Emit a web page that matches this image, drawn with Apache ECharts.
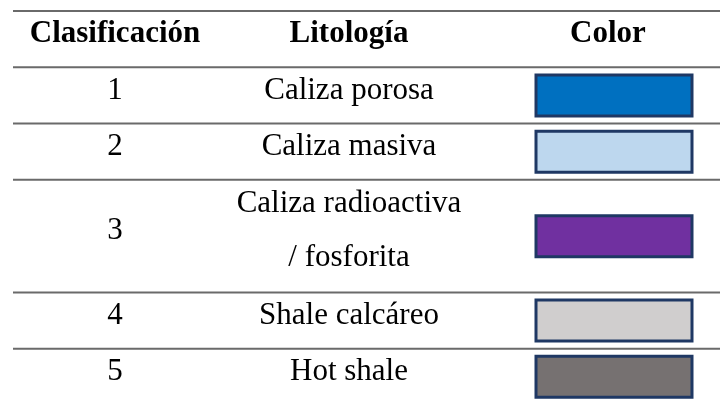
<!DOCTYPE html>
<html>
<head>
<meta charset="utf-8">
<script src="https://cdn.jsdelivr.net/npm/echarts@6/dist/echarts.min.js"></script>
<style>
  html, body { margin: 0; padding: 0; background: #ffffff; overflow: hidden; }
  #chart { width: 720px; height: 405px; }
</style>
</head>
<body>
<div id="chart"></div>
<script>
// ---- Data ----
const headers = ['Clasificación', 'Litología', 'Color'];
const clasificacion = ['1', '2', '3', '4', '5'];
const litologia = ['Caliza porosa', 'Caliza masiva', 'Caliza radioactiva\n/ fosforita', 'Shale calcáreo', 'Hot shale'];
const colores = ['#0070C0', '#BDD7EE', '#7030A0', '#D0CECE', '#767171'];

// ---- Layout (styling, not data) ----
const LAYOUT = {
  xMax: 720,
  lineStart: 13,
  colCenters: [115, 349, 608],
  swatchCenter: 614,
  swatchW: 156,
  swatchH: 41,
  textShift: -5,
  fontSize: 31,
  lineHeight: 54,
  ruleColor: '#6a6a6a',
  ruleWidth: 2,
  swatchBorder: '#1F3864'
};

// rows span as many units as their text has lines
const spans = litologia.map(t => t.split('\n').length);
const items = [[-1, 0, 1]];
let acc = 1;
spans.forEach((s, i) => { items.push([i, acc, acc + s]); acc += s; });
const totalUnits = acc;

const chart = echarts.init(document.getElementById('chart'), null, { renderer: 'canvas' });

function txt(text, x, y, bold) {
  return {
    type: 'text',
    style: {
      text: text,
      x: x,
      y: y,
      align: 'center',
      verticalAlign: 'middle',
      fontFamily: '"Liberation Serif", "Times New Roman", serif',
      fontSize: LAYOUT.fontSize,
      fontWeight: bold ? 'bold' : 'normal',
      lineHeight: LAYOUT.lineHeight,
      fill: '#000000'
    }
  };
}

function renderItem(params, api) {
  const idx = api.value(0);
  const y0 = api.coord([0, api.value(1)])[1];
  const y1 = api.coord([0, api.value(2)])[1];
  const xL = api.coord([LAYOUT.lineStart, 0])[0];
  const xR = api.coord([LAYOUT.xMax, 0])[0];
  const mid = (y0 + y1) / 2;
  const ty = mid + LAYOUT.textShift;
  const cx = LAYOUT.colCenters.map(c => api.coord([c, 0])[0]);
  const children = [{
    type: 'line',
    shape: { x1: xL, y1: y0, x2: xR, y2: y0 },
    style: { stroke: LAYOUT.ruleColor, lineWidth: LAYOUT.ruleWidth }
  }];
  if (idx < 0) {
    headers.forEach((h, k) => children.push(txt(h, cx[k], ty, true)));
  } else {
    children.push(txt(clasificacion[idx], cx[0], ty, false));
    children.push(txt(litologia[idx], cx[1], ty, false));
    const sx = api.coord([LAYOUT.swatchCenter, 0])[0];
    children.push({
      type: 'rect',
      shape: { x: sx - LAYOUT.swatchW / 2, y: mid - LAYOUT.swatchH / 2, width: LAYOUT.swatchW, height: LAYOUT.swatchH },
      style: { fill: colores[idx], stroke: LAYOUT.swatchBorder, lineWidth: 3 }
    });
  }
  return { type: 'group', children: children };
}

chart.setOption({
  animation: false,
  backgroundColor: '#ffffff',
  grid: { left: 0, right: 0, top: 11, bottom: 0 },
  xAxis: { type: 'value', min: 0, max: LAYOUT.xMax, show: false },
  yAxis: { type: 'value', min: 0, max: totalUnits, inverse: true, show: false },
  series: [{
    type: 'custom',
    renderItem: renderItem,
    data: items,
    clip: false,
    silent: true
  }]
});
</script>
</body>
</html>
